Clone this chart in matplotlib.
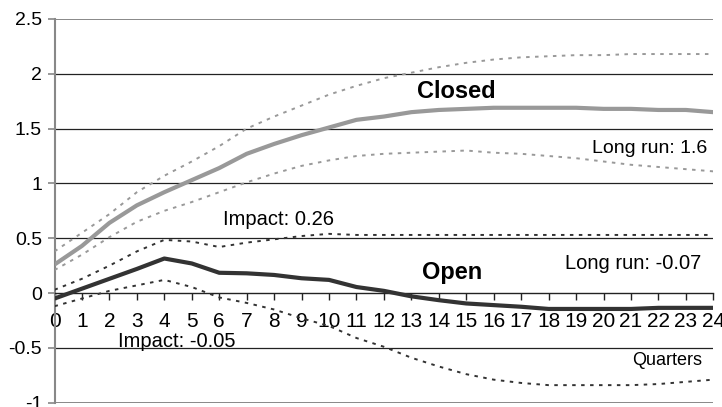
import numpy as np
import matplotlib.pyplot as plt

plt.rcParams['font.family'] = ['Liberation Sans', 'DejaVu Sans']

# 脉冲响应（季度）
quarters = np.arange(0, 25)

closed = [0.26, 0.43, 0.64, 0.80, 0.92, 1.03, 1.14, 1.27, 1.36, 1.44, 1.51, 1.58, 1.61,
          1.65, 1.67, 1.68, 1.69, 1.69, 1.69, 1.69, 1.68, 1.68, 1.67, 1.67, 1.65]
closed_hi = [0.38, 0.55, 0.72, 0.92, 1.07, 1.20, 1.34, 1.50, 1.61, 1.71, 1.81, 1.89, 1.96,
             2.01, 2.06, 2.10, 2.13, 2.15, 2.16, 2.17, 2.17, 2.18, 2.18, 2.18, 2.18]
closed_lo = [0.21, 0.35, 0.51, 0.65, 0.75, 0.83, 0.92, 1.01, 1.09, 1.16, 1.21, 1.25, 1.27,
             1.28, 1.29, 1.30, 1.28, 1.27, 1.25, 1.23, 1.20, 1.17, 1.15, 1.13, 1.11]

open_ = [-0.05, 0.04, 0.13, 0.22, 0.315, 0.27, 0.185, 0.18, 0.165, 0.135, 0.12, 0.055, 0.02,
         -0.03, -0.065, -0.095, -0.11, -0.125, -0.145, -0.145, -0.145, -0.145, -0.135, -0.135, -0.135]
open_hi = [0.03, 0.13, 0.25, 0.38, 0.485, 0.47, 0.42, 0.46, 0.49, 0.52, 0.54, 0.53, 0.53,
           0.53, 0.53, 0.53, 0.53, 0.53, 0.53, 0.53, 0.53, 0.53, 0.53, 0.53, 0.53]
open_lo = [-0.12, -0.05, 0.02, 0.07, 0.12, 0.055, -0.04, -0.09, -0.15, -0.23, -0.30, -0.41, -0.49,
           -0.59, -0.67, -0.74, -0.79, -0.82, -0.84, -0.84, -0.84, -0.84, -0.83, -0.81, -0.79]

y_ticks = [-1, -0.5, 0, 0.5, 1, 1.5, 2, 2.5]
y_labels = ['-1', '-0.5', '0', '0.5', '1', '1.5', '2', '2.5']

light = '#999999'
dark = '#333333'
dots = (0, (1.8, 2.8))

fig = plt.figure(figsize=(7.22, 4.07), dpi=100)
ax = fig.add_axes([0.0755, 0.0106, 0.9125, 0.9428])

# 网格线
for v in y_ticks:
    if v == 0:
        continue
    edge = v in (y_ticks[0], y_ticks[-1])
    ax.axhline(v, color='#888888' if edge else '#222222', lw=1.4 if edge else 0.9, zorder=1)

ax.plot(quarters, closed_hi, color=light, lw=1.4, ls=dots, zorder=3)
ax.plot(quarters, closed_lo, color=light, lw=1.4, ls=dots, zorder=3)
ax.plot(quarters, closed, color=light, lw=3.0, zorder=4, solid_capstyle='butt')

ax.plot(quarters, open_hi, color=dark, lw=1.4, ls=dots, zorder=3)
ax.plot(quarters, open_lo, color=dark, lw=1.4, ls=dots, zorder=3)
ax.plot(quarters, open_, color=dark, lw=3.0, zorder=4, solid_capstyle='butt')

ax.set_xlim(0, 24)
ax.set_ylim(-1, 2.5)
ax.set_xticks(quarters)
ax.set_yticks(y_ticks)
ax.set_yticklabels(y_labels)

# x轴放在 y=0 处
ax.spines['bottom'].set_position(('data', 0))
ax.spines['bottom'].set_color('#222222')
ax.spines['bottom'].set_linewidth(1.0)
ax.spines['left'].set_color('#888888')
ax.spines['left'].set_linewidth(1.5)
ax.spines['top'].set_visible(False)
ax.spines['right'].set_visible(False)

ax.tick_params(axis='x', direction='out', length=5, width=1.0, color='#222222',
               labelsize=15, pad=9)
ax.tick_params(axis='y', direction='out', length=5, width=1.2, color='#888888',
               labelsize=14, pad=4)

ax.text(13.2, 1.775, 'Closed', fontsize=17, fontweight='bold', ha='left', va='baseline')
ax.text(19.57, 1.273, 'Long run: 1.6', fontsize=14, ha='left', va='baseline')
ax.text(6.14, 0.623, 'Impact: 0.26', fontsize=14.5, ha='left', va='baseline')
ax.text(13.38, 0.125, 'Open', fontsize=17, fontweight='bold', ha='left', va='baseline')
ax.text(18.6, 0.216, 'Long run: -0.07', fontsize=14.5, ha='left', va='baseline')
ax.text(2.32, -0.492, 'Impact: -0.05', fontsize=14.5, ha='left', va='baseline')
ax.text(21.03, -0.659, 'Quarters', fontsize=13, ha='left', va='baseline')

fig.savefig('out.png', dpi=100)
